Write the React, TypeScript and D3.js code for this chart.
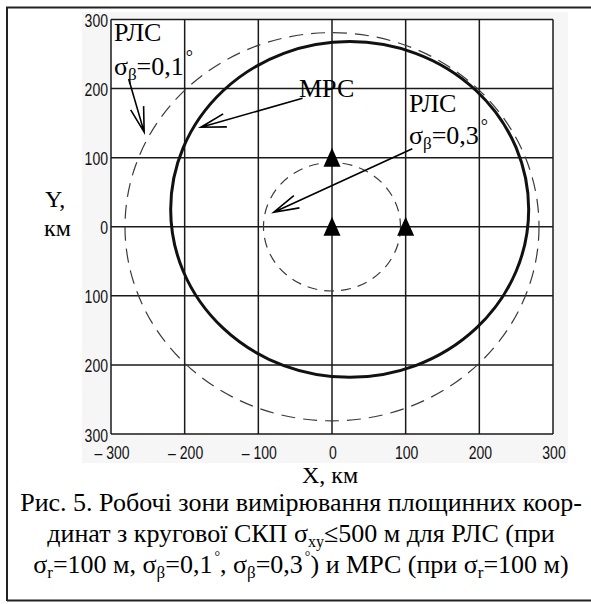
import * as d3 from "d3";

// axis ticks
const xTicks = [-300, -200, -100, 0, 100, 200, 300];
const xTickLabels = ["– 300", "– 200", "– 100", "0", "100", "200", "300"];
const yTicks = [300, 200, 100, 0, -100, -200, -300];
const yTickLabels = ["300", "200", "100", "0", "100", "200", "300"];

// stations (triangles), km
const stationX = [0, 0, 100];
const stationY = [100, 0, 0];

// РЛС zones: circles round the origin, radius in km
const rlsWideR = 281; // σβ = 0,1°
const rlsNarrowR = 93; // σβ = 0,3°

// МРС zone: near-circle, centre and radius in km
const mrsCenter = [24, 25];
const mrsR = 243;

// annotation arrows, km: [fromX, fromY, toX, toY]
const arrows = [
  [-276, 214, -255, 137],
  [-40, 186, -178, 144],
  [109, 113, -79, 21],
];

const W = 591;
const H = 604;

export default function App() {
  const x = d3.scaleLinear().domain([-300, 300]).range([111, 553]);
  const y = d3.scaleLinear().domain([-300, 300]).range([434, 19.5]);

  const arrowHead = (a: number[]) => {
    const fx = x(a[0]), fy = y(a[1]), tx = x(a[2]), ty = y(a[3]);
    const ang = Math.atan2(fy - ty, fx - tx);
    const L = 26, da = (15 * Math.PI) / 180;
    const p1 = [tx + L * Math.cos(ang + da), ty + L * Math.sin(ang + da)];
    const p2 = [tx + L * Math.cos(ang - da), ty + L * Math.sin(ang - da)];
    return `M${fx},${fy}L${tx},${ty}M${p1[0]},${p1[1]}L${tx},${ty}L${p2[0]},${p2[1]}`;
  };

  const tri = (cx: number, cy: number) =>
    `M${cx},${cy - 10}L${cx + 8.5},${cy + 9}L${cx - 8.5},${cy + 9}Z`;

  const serif = "'Liberation Serif', 'Times New Roman', serif";
  const sans = "'Liberation Sans', Arial, sans-serif";

  return (
    <svg width={W} height={H} style={{ position: "absolute", left: 0, top: 0, background: "#fff" }}>
      {/* outer frame */}
      <path d={`M7,601V7.5H591M7,600.5H591`} fill="none" stroke="#222" strokeWidth={2} />

      {/* panel background */}
      <rect x={82} y={12} width={486} height={451} fill="#f6f6f6" />
      <rect x={x(-300)} y={y(300)} width={x(300) - x(-300)} height={y(-300) - y(300)} fill="#fff" />

      {/* grid */}
      <g stroke="#1a1a1a" strokeWidth={1.5}>
        {xTicks.map((t) => (
          <line key={"gx" + t} x1={x(t)} x2={x(t)} y1={y(300)} y2={y(-300)} />
        ))}
        {yTicks.map((t) => (
          <line key={"gy" + t} x1={x(-300)} x2={x(300)} y1={y(t)} y2={y(t)} />
        ))}
      </g>

      {/* tick labels (condensed) */}
      <g fontFamily={sans} fontSize={18} fill="#111">
        {yTicks.map((t, i) => (
          <text key={"ty" + t} transform={`translate(108,${y(t) + 7.5}) scale(0.78,1)`} textAnchor="end">
            {yTickLabels[i]}
          </text>
        ))}
        {xTicks.map((t, i) => (
          <text key={"tx" + t} transform={`translate(${x(t) + 1},${459}) scale(0.78,1)`} textAnchor="middle">
            {xTickLabels[i]}
          </text>
        ))}
      </g>

      {/* РЛС zones */}
      <ellipse cx={x(0)} cy={y(0)} rx={x(rlsWideR) - x(0)} ry={y(0) - y(rlsWideR)}
        fill="none" stroke="#3a3a3a" strokeWidth={1.2} strokeDasharray="14 8" />
      <ellipse cx={x(0)} cy={y(0)} rx={x(rlsNarrowR) - x(0)} ry={y(0) - y(rlsNarrowR)}
        fill="none" stroke="#3a3a3a" strokeWidth={1.2} strokeDasharray="10 7" />

      {/* МРС zone */}
      <ellipse cx={x(mrsCenter[0])} cy={y(mrsCenter[1])}
        rx={x(mrsCenter[0] + mrsR) - x(mrsCenter[0])} ry={y(mrsCenter[1]) - y(mrsCenter[1] + mrsR)}
        fill="none" stroke="#111" strokeWidth={3} />

      {/* stations */}
      {stationX.map((v, i) => (
        <path key={"st" + i} d={tri(x(v), y(stationY[i]))} fill="#000" />
      ))}

      {/* arrows */}
      {arrows.map((a, i) => (
        <path key={"ar" + i} d={arrowHead(a)} fill="none" stroke="#000" strokeWidth={1.6} />
      ))}

      {/* annotations */}
      <g fontFamily={serif} fontSize={26} fill="#000">
        <text x={x(-296)} y={y(269.6)}>РЛС</text>
        <text x={x(-296)} y={y(219)}>
          σ<tspan fontSize={17} dy={5}>β</tspan>
          <tspan dy={-5}>=0,1</tspan>
          <tspan fontSize={18} dy={-12} dx={2}>°</tspan>
        </text>
        <text x={x(-44.8)} y={y(187.7)}>МРС</text>
        <text x={x(104.5)} y={y(166)}>РЛС</text>
        <text x={x(104.5)} y={y(119.4)}>
          σ<tspan fontSize={17} dy={5}>β</tspan>
          <tspan dy={-5}>=0,3</tspan>
          <tspan fontSize={18} dy={-12} dx={2}>°</tspan>
        </text>
      </g>

      {/* axis titles */}
      <g fontFamily={serif} fontSize={24} fill="#000">
        <text x={45} y={207}>Y,</text>
        <text x={44} y={236}>км</text>
        <text x={302} y={483}>X, км</text>
      </g>

      {/* caption */}
      <g fontFamily={serif} fontSize={26} fill="#000" textAnchor="middle">
        <text x={301} y={511}>Рис. 5. Робочі зони вимірювання площинних коор-</text>
        <text x={301} y={542}>
          динат з кругової СКП σ<tspan fontSize={16} dy={5}>xy</tspan>
          <tspan dy={-5}>≤500 м для РЛС (при</tspan>
        </text>
        <text x={301} y={573}>
          σ<tspan fontSize={17} dy={5}>r</tspan>
          <tspan dy={-5}>=100 м, σ</tspan>
          <tspan fontSize={17} dy={5}>β</tspan>
          <tspan dy={-5}>=0,1</tspan>
          <tspan fontSize={14} dy={-12} dx={2}>°</tspan>
          <tspan dy={12}>, σ</tspan>
          <tspan fontSize={17} dy={5}>β</tspan>
          <tspan dy={-5}>=0,3</tspan>
          <tspan fontSize={14} dy={-12} dx={2}>°</tspan>
          <tspan dy={12}>) и МРС (при σ</tspan>
          <tspan fontSize={17} dy={5}>r</tspan>
          <tspan dy={-5}>=100 м)</tspan>
        </text>
      </g>
    </svg>
  );
}
